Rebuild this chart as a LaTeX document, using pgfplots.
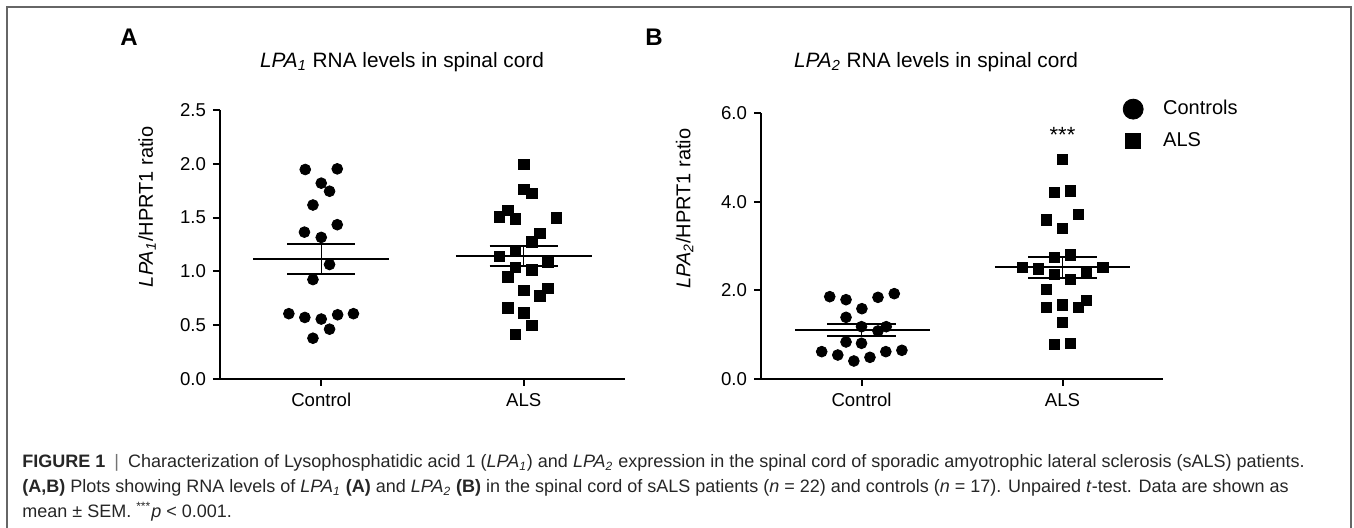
\documentclass[border=0pt]{standalone}
\usepackage{fontspec}
\setmainfont{Liberation Sans}
\usepackage{pgfplots}
\pgfplotsset{compat=1.18}

% font sizes (1 px of the reference = 0.5pt)
\newcommand{\tickfont}{\fontsize{9.3}{11}\selectfont}
\newcommand{\labfont}{\fontsize{10}{12}\selectfont}
\newcommand{\titfont}{\fontsize{10.4}{12}\selectfont}
\newcommand{\legfont}{\fontsize{10}{12}\selectfont}
\newcommand{\capfont}{\fontsize{9}{12.5}\selectfont}

\pgfplotsset{
  dotplot/.style={
    scale only axis, anchor=south west, clip=false,
    axis lines=left, axis line style={-, line width=1pt},
    xmin=-0.5, xmax=1.5, xtick={0,1}, xticklabels={Control,ALS},
    tick align=outside, major tick length=3.5pt,
    tick style={black, line width=1pt},
    ticklabel style={font=\tickfont},
    /pgf/number format/assume math mode=true,
    yticklabel style={/pgf/number format/fixed,
      /pgf/number format/fixed zerofill, /pgf/number format/precision=1},
    ylabel style={font=\labfont, anchor=center},
  },
  ctrl/.style={only marks, mark=*, mark size=2.7pt, black, forget plot},
  als/.style={only marks, mark=square*, mark size=2.6pt, black, forget plot},
  meanline/.style={black, line width=1pt, forget plot},
  semline/.style={black, line width=0.7pt, forget plot},
}

\begin{document}
\begin{tikzpicture}
\path[use as bounding box] (0,0) rectangle (677pt,-264pt);
\draw[black!60, line width=0.75pt] (3.5pt,-264pt) -- (3.5pt,-3.5pt) -- (675.5pt,-3.5pt) -- (675.5pt,-264pt);

% panel A
\node[font=\fontsize{12}{14}\selectfont\bfseries] at (64.5pt,-18.5pt) {A};
\node[font=\titfont] at (201pt,-31pt) {\textit{LPA}\textsubscript{\textit{1}} RNA levels in spinal cord};
\begin{axis}[dotplot, at={(110pt,-189.5pt)}, width=202.5pt, height=134.5pt,
  ymin=0, ymax=2.5, ytick={0,0.5,...,2.5},
  ylabel={\textit{LPA}\textsubscript{\textit{1}}/HPRT1 ratio},
  ylabel style={at={(axis description cs:-0.18,0.64)}}]
\addplot[ctrl] coordinates {
  (-0.079,1.947) (0.079,1.953) (0,1.82) (0.041,1.745) (-0.041,1.617)
  (-0.083,1.365) (0.079,1.434) (0,1.316) (0.041,1.064) (-0.041,0.924)
  (-0.16,0.607) (-0.081,0.572) (0,0.557) (0.081,0.597) (0.159,0.607)
  (0.041,0.463) (-0.041,0.379)};
\addplot[als] coordinates {
  (1,1.994) (1,1.76) (1.04,1.723) (0.881,1.505) (0.921,1.565) (0.96,1.487)
  (1.16,1.496) (1.079,1.353) (1.04,1.275) (0.96,1.194) (0.881,1.142)
  (1.119,1.089) (0.96,1.036) (1.04,1.014) (0.921,0.949) (1,0.821)
  (1.119,0.84) (1.079,0.771) (0.921,0.659) (1,0.616) (1.04,0.498) (0.96,0.414)};
% mean and SEM
\addplot[meanline] coordinates {(-0.335,1.116) (0.335,1.116)};
\addplot[meanline] coordinates {(-0.167,1.257) (0.167,1.257)};
\addplot[meanline] coordinates {(-0.167,0.98) (0.167,0.98)};
\addplot[semline] coordinates {(0,0.98) (0,1.257)};
\addplot[meanline] coordinates {(0.665,1.142) (1.335,1.142)};
\addplot[meanline] coordinates {(0.831,1.238) (1.169,1.238)};
\addplot[meanline] coordinates {(0.831,1.051) (1.169,1.051)};
\addplot[semline] coordinates {(1,1.051) (1,1.238)};
\end{axis}

% panel B
\node[font=\fontsize{12}{14}\selectfont\bfseries] at (327pt,-18.5pt) {B};
\node[font=\titfont] at (468pt,-31pt) {\textit{LPA}\textsubscript{\textit{2}} RNA levels in spinal cord};
\begin{axis}[dotplot, at={(380.5pt,-189.5pt)}, width=201pt, height=133pt,
  ymin=0, ymax=6, ytick={0,2,4,6},
  ylabel={\textit{LPA}\textsubscript{\textit{2}}/HPRT1 ratio},
  ylabel style={at={(axis description cs:-0.19,0.64)}},
  legend style={draw=none, fill=none, font=\legfont,
    at={(0.885,1.079)}, anchor=north west, row sep=3.5pt,
    /tikz/every odd column/.append style={column sep=8pt}},
  legend cell align=left]
\addlegendimage{only marks, mark=*, mark size=5pt, black}
\addlegendentry{Controls}
\addlegendimage{only marks, mark=square*, mark size=3.75pt, black}
\addlegendentry{ALS}
\addplot[ctrl] coordinates {
  (-0.158,1.857) (-0.077,1.789) (0.082,1.842) (0.163,1.925) (0.002,1.586)
  (-0.077,1.391) (0,1.18) (0.123,1.18) (0.082,1.083) (-0.077,0.835)
  (0,0.805) (-0.198,0.617) (-0.118,0.541) (-0.038,0.406) (0.042,0.489)
  (0.121,0.617) (0.201,0.647)};
\addplot[als] coordinates {
  (1,4.955) (0.96,4.21) (1.04,4.24) (0.92,3.586) (1.08,3.707) (1,3.391)
  (0.96,2.744) (1.04,2.797) (0.799,2.519) (0.879,2.481) (0.96,2.353)
  (1.04,2.248) (1.12,2.406) (1.2,2.511) (0.92,2.023) (0.92,1.617)
  (1,1.669) (1.08,1.617) (1.12,1.774) (1,1.278) (0.96,0.782) (1.04,0.805)};
\addplot[meanline] coordinates {(-0.33,1.105) (0.34,1.105)};
\addplot[meanline] coordinates {(-0.17,1.233) (0.17,1.233)};
\addplot[meanline] coordinates {(-0.17,0.977) (0.17,0.977)};
\addplot[semline] coordinates {(0,0.977) (0,1.233)};
\addplot[meanline] coordinates {(0.664,2.534) (1.336,2.534)};
\addplot[meanline] coordinates {(0.829,2.759) (1.171,2.759)};
\addplot[meanline] coordinates {(0.829,2.286) (1.171,2.286)};
\addplot[semline] coordinates {(1,2.286) (1,2.759)};
\node[font=\fontsize{11}{12}\selectfont] at (axis cs:1,5.5) {***};
\end{axis}

% caption
\begin{scope}[every node/.style={anchor=base west, inner sep=0pt, font=\capfont, text=black!85}]
\node at (11pt,-234pt) {\textbf{FIGURE 1}\enspace{\color{black!55}|}\enspace Characterization of Lysophosphatidic acid 1 (\textit{LPA\textsubscript{1}}) and \textit{LPA\textsubscript{2}} expression in the spinal cord of sporadic amyotrophic lateral sclerosis (sALS) patients.};
\node at (11pt,-246.5pt) {\textbf{(A,B)} Plots showing RNA levels of \textit{LPA\textsubscript{1}} \textbf{(A)} and \textit{LPA\textsubscript{2}} \textbf{(B)} in the spinal cord of sALS patients (\textit{n} = 22) and controls (\textit{n} = 17). Unpaired \textit{t}-test. Data are shown as};
\node at (11pt,-259pt) {mean ± SEM. \textsuperscript{***}\textit{p} < 0.001.};
\end{scope}
\end{tikzpicture}
\end{document}
